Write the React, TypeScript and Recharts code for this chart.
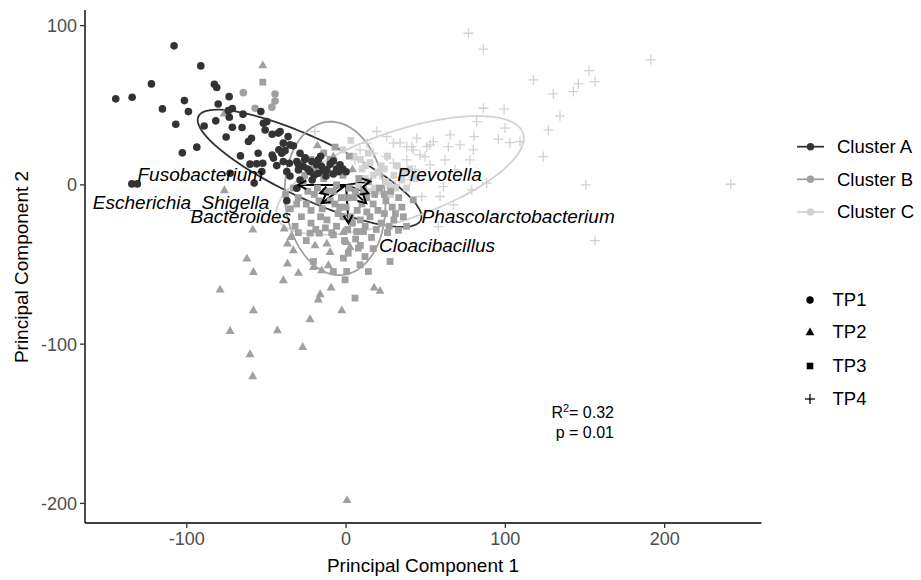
import React from 'react';
import { ComposedChart, Scatter, Line, XAxis, YAxis, Customized } from 'recharts';

const FONT = '"Liberation Sans", Arial, Helvetica, sans-serif';

const colorA = '#333333';
const colorB = '#a0a0a0';
const colorC = '#d2d2d2';

const xTicks = [-100, 0, 100, 200];
const yTicks = [-200, -100, 0, 100];

// Cluster A, TP1 (circles)
const clusterA_TP1: [number, number][] = [
  [-108.0, 87.3], [-91.2, 74.7], [-122.2, 63.4], [-82.7, 63.2], [-81.2, 61.1], [-144.6, 54.0], [-134.3, 55.0],
  [-101.5, 52.9], [-115.3, 47.7], [-99.0, 46.0], [-80.3, 50.8], [-73.4, 55.4], [-71.4, 47.9], [-73.9, 46.6],
  [-64.7, 44.4], [-53.5, 46.0], [-81.8, 40.2], [-73.3, 42.5], [-106.9, 38.1], [-89.1, 37.0], [-71.4, 36.2],
  [-65.3, 36.0], [-51.9, 38.7], [-50.8, 34.5], [-75.3, 30.1], [-59.4, 29.3], [-61.3, 27.2], [-46.4, 31.8],
  [-42.5, 32.5], [-36.4, 30.3], [-35.2, 25.1], [-93.7, 23.7], [-102.8, 20.1], [-66.3, 18.2], [-55.2, 19.9],
  [-46.4, 18.8], [-42.2, 22.0], [-38.3, 21.5], [-33.1, 24.5], [-60.3, 13.0], [-56.1, 13.2], [-52.3, 13.6],
  [-43.5, 12.1], [-39.4, 14.6], [-35.6, 13.6], [-29.9, 9.4], [-22.6, 8.3], [-17.4, 7.3], [-12.1, 9.4],
  [-8.0, 6.9], [-37.2, 8.3], [-35.2, 5.6], [-134.5, 0.6], [-131.0, 0.6], [-57.7, 1.1], [-30.9, -2.1],
  [-37.2, -10.0], [-72.8, 7.3], [-41.4, 33.5], [-39.4, 26.2], [-28.9, 19.9], [-40.4, 19.9], [-45.6, 16.8],
  [-30.9, 14.6], [-26.8, 11.5], [-21.5, 14.6], [-18.4, 12.6], [-15.3, 11.5], [-4.8, 8.3], [-17.4, 15.7],
  [-49.8, 39.7], [-25.7, 17.0], [-12.6, 5.6], [-21.3, 3.1], [-28.9, 3.1], [-3.8, 12.6], [0.0, 8.2], [-52.9, 8.4],
  [-14, 9], [-10, 13], [-6, 10], [-20, 6], [-24, 10], [-2, 10], [-8, 15], [-26, 16], [-16, 18], [-30, 13],
];

// Cluster B
const clusterB_TP1: [number, number][] = [
  [-64.5, 57.9], [-44.6, 57.1], [-44.6, 52.7], [-46.6, 48.8], [-57.1, 48.1],
];
const clusterB_TP2: [number, number][] = [
  [-52.3, 75.3], [-76.6, 45.0], [-18.0, 25.1], [-76.4, -3.1], [-58.6, -27.8], [-62.3, -46.0], [-58.2, -54.4],
  [-79.1, -65.5], [-39.4, -59.6], [-36.8, -49.1], [-29.9, -55.0], [-58.2, -78.5], [-72.8, -91.5], [-43.1, -91.0],
  [-22.6, -84.1], [-27.2, -101.5], [-60.3, -106.1], [-58.6, -119.9], [-16.3, -68.4], [-17.4, -71.7], [-9.4, -64.2],
  [-2.7, -78.5], [17.6, -64.2], [21.3, -66.3], [-38.9, -27.2], [-34.7, -32.5], [-36.8, -36.6], [-33.1, -40.8],
  [-19.5, -37.7], [-12.1, -36.6], [-10.0, -41.9], [-20.5, -51.3], [-15.3, -53.4], [-11.1, -50.2], [0.4, -35.6],
  [2.5, -38.7], [-1.7, -29.3], [0.6, -197.7], [-16.3, 14.6], [-8.0, 18.0], [4.0, 10.0],
];
const clusterB_TP3: [number, number][] = [
  [-52.3, 64.5], [-6.9, 23.7], [-22.6, -30.3], [-16.8, -30.3], [-8.0, -31.4], [6.7, -29.3], [10.9, -29.3],
  [1.4, -42.9], [-1.7, -46.0], [7.7, -39.7], [11.9, -45.0], [-20.5, -48.1], [14.0, -54.4], [-0.6, -59.6],
  [5.6, -71.1], [27.6, -48.1], [8.8, -50.2], [-8.0, -54.4], [0.4, -54.4], [32.9, -28.5], [42.2, -9.4],
  [-30, -8], [-25, -12], [-20, -6], [-15, -15], [-10, -10], [-5, -18], [0, -14], [5, -8], [10, -12], [15, -20],
  [20, -16], [25, -10], [30, -22], [-28, -20], [-22, -24], [-12, -22], [-6, -26], [4, -24], [12, -26], [22, -24],
  [-18, -2], [-8, -4], [2, -2], [8, 4], [14, 2], [-2, 6], [-14, 4], [18, -6], [28, -4], [35, -14], [38, -26],
  [-35, -15], [-32, -26], [6, -34], [16, -33], [26, -30], [-25, -35], [3, -20], [-3, -8], [11, -3], [-10, 16],
  [-4, 12], [2, 18], [-20, 10], [-14, 20],
  [-33, -2], [-27, 2], [-22, -16], [-17, -10], [-12, -4], [-7, -12], [-2, -20], [1, -8], [7, -16], [13, -8],
  [17, -12], [21, -2], [24, -18], [-30, -30], [-19, -28], [-9, -30], [1, -28], [9, -22], [19, -28], [29, -14],
  [33, -8], [-26, 6], [-6, 0], [6, -4], [-16, -20], [-38, -6], [27, -26], [-1, -35], [9, -38], [17, -40],
  [-13, -27], [-24, -4], [-4, -14], [13, -17], [-31, -12], [24, -6], [31, -18], [36, -20], [-29, 12], [-22, 16],
  [-12, 8],
];

// Cluster C
const clusterC_TP3: [number, number][] = [
  [5, 18], [10, 10], [15, 14], [20, 8], [25, 2], [12, 4], [18, -2], [30, 6], [8, -1], [22, 12], [35, 3],
  [28, -6], [40, 10], [-2, 22], [3, 28], [12, 12], [17, 6], [24, 10], [32, 12], [20, -4], [27, 0], [36, 8],
  [44, 4], [14, 20], [9, 16], [26, 18], [38, -2], [31, -2], [15, -4],
];
const clusterC_TP4: [number, number][] = [
  [76.8, 95.2], [86.2, 85.2], [191.3, 78.5], [152.5, 71.7], [156.3, 64.8], [145.8, 63.4], [142.7, 58.6],
  [117.6, 65.9], [130.1, 57.1], [134.3, 43.3], [127.0, 34.5], [123.8, 17.8], [150.5, 0.0], [241.5, 0.4],
  [156.3, -35.0], [86.2, 48.1], [99.2, 47.5], [82.0, 39.7], [99.8, 35.6], [95.6, 28.7], [102.9, 26.6],
  [109.2, 27.2], [80.3, 30.3], [79.9, 22.0], [65.3, 31.4], [71.6, 25.1], [64.2, 24.0], [52.7, 25.1],
  [54.8, 27.2], [44.4, 29.3], [41.2, 24.0], [29.7, 26.2], [49.6, 17.8], [77.8, 15.7], [88.3, 1.1],
  [78.9, -3.1], [61.1, -1.1], [59.0, -7.3], [47.5, -7.3], [67.4, -12.6], [57.9, -26.2], [25.5, 30.3],
  [33.9, 26.4], [38.1, 24.0], [42.2, 22.0], [46.4, 18.8], [50.6, 24.0], [19.3, 33.5], [13.0, 26.2],
  [17.1, 19.9], [25.5, 17.8], [29.7, 13.6], [33.9, 10.5], [38.1, 15.7], [8.8, 22.0], [5.6, 15.7],
  [21.3, 6.3], [43.3, 9.4], [52.7, 12.6], [62.1, 15.7], [68.4, 9.4], [30.8, 0.0], [40.2, 3.1], [-19.5, 33.5],
];

// 95% ellipses: centre, semi-axes and rotation (degrees), in data units
const ellipseCx = [-22.9, -6.9, 33.9];
const ellipseCy = [10.4, -8.5, 6.0];
const ellipseA = [77, 48.3, 81.6];
const ellipseB = [19, 31.4, 27.6];
const ellipseAngle = [-25, 95.6, 19];
const ellipseColors = [colorA, colorB, colorC];

// Loading arrows (end points)
const arrowX = [-30, -16.3, -15.3, 1.5, 15.1, 14.0, 12.6];
const arrowY = [0, -5.2, -11.5, -24.1, 2.1, -5.2, -11.5];

// Taxa labels
const taxaNames = ['Fusobacterium', 'Escherichia_Shigella', 'Bacteroides', 'Prevotella', 'Phascolarctobacterium', 'Cloacibacillus'];
const taxaX = [-91.5, -103.6, -66.1, 58.7, 108.0, 57.1];
const taxaY = [6.3, -11.1, -19.9, 6.9, -19.9, -37.7];

const clusterNames = ['Cluster A', 'Cluster B', 'Cluster C'];
const tpNames = ['TP1', 'TP2', 'TP3', 'TP4'];

const toPts = (arr: [number, number][]) => arr.map(([x, y]) => ({ x, y }));

function ellipsePts(i: number) {
  const pts: { x: number; y: number }[] = [];
  const th = (ellipseAngle[i] * Math.PI) / 180;
  const n = 120;
  for (let k = 0; k <= n; k++) {
    const t = (k / n) * 2 * Math.PI;
    const u = ellipseA[i] * Math.cos(t);
    const v = ellipseB[i] * Math.sin(t);
    pts.push({ x: ellipseCx[i] + u * Math.cos(th) - v * Math.sin(th), y: ellipseCy[i] + u * Math.sin(th) + v * Math.cos(th) });
  }
  return pts;
}

const circleShape = (color: string) => (p: any) => <circle cx={p.cx} cy={p.cy} r={3.8} fill={color} />;
const triShape = (color: string) => (p: any) => {
  const s = 4.5;
  return <polygon points={`${p.cx},${p.cy - s} ${p.cx - s},${p.cy + s * 0.75} ${p.cx + s},${p.cy + s * 0.75}`} fill={color} />;
};
const sqShape = (color: string) => (p: any) => <rect x={p.cx - 3.4} y={p.cy - 3.4} width={6.8} height={6.8} fill={color} />;
const plusShape = (color: string) => (p: any) => (
  <g stroke={color} strokeWidth={1.3}>
    <line x1={p.cx - 5} x2={p.cx + 5} y1={p.cy} y2={p.cy} />
    <line x1={p.cx} x2={p.cx} y1={p.cy - 5} y2={p.cy + 5} />
  </g>
);

const labelShape = (p: any) => (
  <text x={p.cx} y={p.cy} dy="0.35em" textAnchor="middle" fontStyle="italic" fontSize={19} fontFamily={FONT} fill="#000">
    {p.payload.label}
  </text>
);

const Overlay = () => {
  const legendClusterY = [146.7, 179.3, 212];
  const legendTpY = [300, 332, 366, 399];
  const tpIcons = [
    (y: number) => <circle cx={810} cy={y} r={3.7} fill="#000" />,
    (y: number) => <polygon points={`810,${y - 4.4} ${805.6},${y + 3.3} ${814.4},${y + 3.3}`} fill="#000" />,
    (y: number) => <rect x={806.7} y={y - 3.3} width={6.6} height={6.6} fill="#000" />,
    (y: number) => (
      <g stroke="#000" strokeWidth={1.3}>
        <line x1={805} x2={815} y1={y} y2={y} />
        <line x1={810} x2={810} y1={y - 5} y2={y + 5} />
      </g>
    ),
  ];
  return (
    <g fontFamily={FONT}>
      <text x={423} y={572} textAnchor="middle" fontSize={19} fill="#000">Principal Component 1</text>
      <text transform="translate(21,267) rotate(-90)" textAnchor="middle" dy="0.35em" fontSize={19} fill="#000">Principal Component 2</text>
      {clusterNames.map((n, i) => (
        <g key={n}>
          <line x1={797} x2={824} y1={legendClusterY[i]} y2={legendClusterY[i]} stroke={ellipseColors[i]} strokeWidth={1.8} />
          <circle cx={810.5} cy={legendClusterY[i]} r={3.7} fill={ellipseColors[i]} />
          <text x={837} y={legendClusterY[i]} dy="0.35em" fontSize={18.5} fill="#000">{n}</text>
        </g>
      ))}
      {tpNames.map((n, i) => (
        <g key={n}>
          {tpIcons[i](legendTpY[i])}
          <text x={832.5} y={legendTpY[i]} dy="0.35em" fontSize={18.5} fill="#000">{n}</text>
        </g>
      ))}
      <text x={614} y={417.5} textAnchor="end" fontSize={16} fill="#000">
        R<tspan dy={-6} fontSize={11}>2</tspan><tspan dy={6}>= 0.32</tspan>
      </text>
      <text x={614} y={438} textAnchor="end" fontSize={16} fill="#000">p = 0.01</text>
    </g>
  );
};

const arrowDot = (i: number) => (p: any) => {
  if (p.index !== 1) return <g key={`ad-${i}-${p.index}`} />;
  const ang = Math.atan2(-arrowY[i], arrowX[i]);
  const L = 9;
  const a1 = ang + Math.PI - 0.5;
  const a2 = ang + Math.PI + 0.5;
  const d = `M${p.cx + L * Math.cos(a1)},${p.cy + L * Math.sin(a1)} L${p.cx},${p.cy} L${p.cx + L * Math.cos(a2)},${p.cy + L * Math.sin(a2)}`;
  return <path key={`ad-${i}-${p.index}`} d={d} fill="none" stroke="#000" strokeWidth={2} />;
};

export default function App() {
  const labels = taxaNames.map((label, i) => ({ x: taxaX[i], y: taxaY[i], label }));
  return (
    <div style={{ fontFamily: FONT }}>
      <style>{'body{margin:0;background:#fff}'}</style>
      <ComposedChart width={921} height={580} margin={{ top: 10, right: 159.5, bottom: 7, left: 25 }}>
        <XAxis
          dataKey="x"
          type="number"
          domain={[-163.9, 260.8]}
          ticks={xTicks}
          interval={0}
          allowDataOverflow
          height={50}
          tickSize={5}
          tickMargin={4}
          axisLine={{ stroke: '#000', strokeWidth: 1.4 }}
          tickLine={{ stroke: '#333', strokeWidth: 1.3 }}
          tick={{ fill: '#4d4d4d', fontSize: 18, fontFamily: FONT }}
        />
        <YAxis
          dataKey="y"
          type="number"
          domain={[-212.3, 109.8]}
          ticks={yTicks}
          interval={0}
          allowDataOverflow
          width={60}
          tickSize={5}
          tickMargin={3}
          axisLine={{ stroke: '#000', strokeWidth: 1.4 }}
          tickLine={{ stroke: '#333', strokeWidth: 1.3 }}
          tick={{ fill: '#4d4d4d', fontSize: 18, fontFamily: FONT }}
        />
        <Scatter data={toPts(clusterC_TP3)} shape={sqShape(colorC)} isAnimationActive={false} />
        <Scatter data={toPts(clusterB_TP3)} shape={sqShape(colorB)} isAnimationActive={false} />
        <Scatter data={toPts(clusterB_TP2)} shape={triShape(colorB)} isAnimationActive={false} />
        <Scatter data={toPts(clusterB_TP1)} shape={circleShape(colorB)} isAnimationActive={false} />
        <Scatter data={toPts(clusterC_TP4)} shape={plusShape(colorC)} isAnimationActive={false} />
        <Scatter data={toPts(clusterA_TP1)} shape={circleShape(colorA)} isAnimationActive={false} />
        {[0, 1, 2].map((i) => (
          <Line
            key={`el-${i}`}
            data={ellipsePts(i)}
            dataKey="y"
            type="linear"
            stroke={ellipseColors[i]}
            strokeWidth={1.8}
            dot={false}
            activeDot={false}
            isAnimationActive={false}
          />
        ))}
        {arrowX.map((ax, i) => (
          <Line
            key={`ar-${i}`}
            data={[{ x: 0, y: 0 }, { x: ax, y: arrowY[i] }]}
            dataKey="y"
            type="linear"
            stroke="#000"
            strokeWidth={2}
            dot={arrowDot(i)}
            activeDot={false}
            isAnimationActive={false}
          />
        ))}
        <Scatter data={labels} shape={labelShape} isAnimationActive={false} />
        <Customized component={Overlay} />
      </ComposedChart>
    </div>
  );
}
